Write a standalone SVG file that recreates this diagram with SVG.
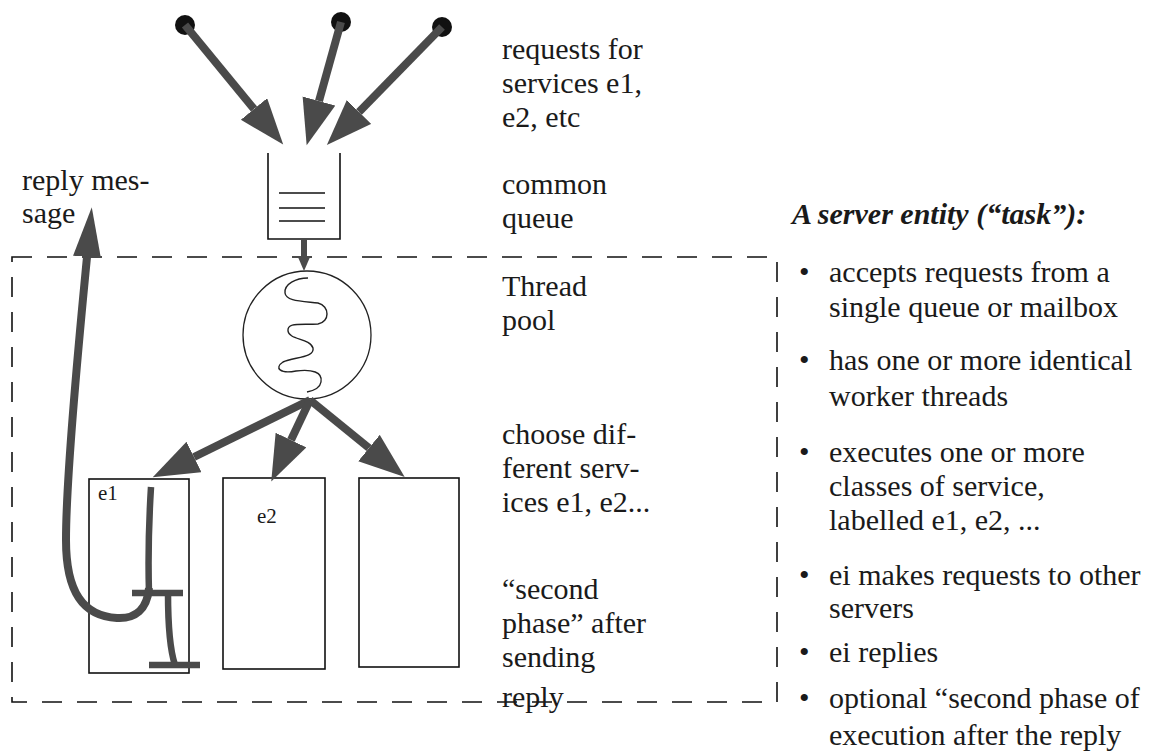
<svg xmlns="http://www.w3.org/2000/svg" width="1149" height="753" viewBox="0 0 1149 753" font-family="'Liberation Serif', 'DejaVu Serif', serif">
  <style>
    .txt { font-size: 30px; fill: #1a1a1a; }
    .small { font-size: 21px; fill: #1a1a1a; }
    .head { font-size: 30px; font-weight: bold; font-style: italic; fill: #1a1a1a; }
    .box { fill: none; stroke: #111; stroke-width: 1.6; }
    .thick { fill: none; stroke: #4a4a4a; stroke-width: 8; stroke-linecap: butt; }
    .mid { fill: none; stroke: #4a4a4a; stroke-width: 6.5; stroke-linecap: butt; }
    .dash { fill: none; stroke: #111; stroke-width: 1.6; stroke-dasharray: 20 15; }
    .dot { fill: #111; }
  </style>
  <defs>
    <marker id="head" markerUnits="userSpaceOnUse" markerWidth="48" markerHeight="36" refX="0" refY="17" orient="auto">
      <path d="M0,0 L46,17 L0,34 z" fill="#4a4a4a"/>
    </marker>
    <marker id="headSlim" markerUnits="userSpaceOnUse" markerWidth="52" markerHeight="30" refX="0" refY="14" orient="auto">
      <path d="M0,0 L50,14 L0,28 z" fill="#4a4a4a"/>
    </marker>
    <marker id="headSmall" markerUnits="userSpaceOnUse" markerWidth="16" markerHeight="14" refX="0" refY="6.5" orient="auto">
      <path d="M0,0 L15,6.5 L0,13 z" fill="#4a4a4a"/>
    </marker>
  </defs>

  <!-- task boundary -->
  <g id="task-boundary">
    <rect class="dash" x="12" y="257" width="765" height="445"/>
  </g>

  <!-- request sources -->
  <g id="sources">
    <circle class="dot" cx="185" cy="25" r="10"/>
    <circle class="dot" cx="341" cy="22" r="10"/>
    <circle class="dot" cx="442" cy="27" r="10"/>
  </g>

  <!-- common queue -->
  <g id="queue">
    <path class="box" d="M268,153 L268,239 L340,239 L340,153"/>
    <line class="box" x1="279" y1="193" x2="325" y2="193"/>
    <line class="box" x1="279" y1="208" x2="325" y2="208"/>
    <line class="box" x1="279" y1="221" x2="325" y2="221"/>
  </g>

  <!-- thread pool -->
  <g id="thread-pool">
    <circle cx="307" cy="335" r="64" fill="none" stroke="#222" stroke-width="1.3"/>
    <path fill="none" stroke="#222" stroke-width="1.4" d="M308,278 C296,278 284,284 285,293 C286,301 300,301 318,303 C330,306 330,322 318,324 C300,325 287,322 288,331 C289,340 310,338 313,348 C315,358 293,357 283,362 C274,368 280,374 296,371 C312,369 323,372 321,382 C320,388 312,391 307,392"/>
  </g>

  <!-- service classes -->
  <g id="service-e1">
    <rect class="box" x="89" y="479" width="100" height="194"/>
    <text class="small" x="98" y="500">e1</text>
    <path class="mid" d="M151,487 C149,520 148,560 149,593"/>
    <line class="mid" x1="132" y1="593" x2="183" y2="593"/>
    <path class="mid" d="M168,593 C168,625 170,650 175,665"/>
    <line class="mid" x1="149" y1="665" x2="200" y2="665"/>
  </g>
  <g id="service-e2">
    <rect class="box" x="223" y="478" width="102" height="191"/>
    <text class="small" x="257" y="523">e2</text>
  </g>
  <g id="service-e3">
    <rect class="box" x="359" y="478" width="100" height="189"/>
  </g>

  <!-- connectors -->
  <g id="connectors">
    <line class="thick" x1="185" y1="25" x2="254" y2="109" marker-end="url(#head)"/>
    <line class="thick" x1="341" y1="22" x2="319" y2="101" marker-end="url(#head)"/>
    <line class="thick" x1="442" y1="27" x2="359" y2="112" marker-end="url(#head)"/>
    <line x1="304" y1="239" x2="304" y2="256" stroke="#4a4a4a" stroke-width="6" marker-end="url(#headSmall)"/>
    <line class="thick" x1="310" y1="400" x2="194" y2="457" marker-end="url(#head)"/>
    <line class="thick" x1="310" y1="400" x2="291" y2="440" marker-end="url(#head)"/>
    <line class="thick" x1="310" y1="400" x2="369" y2="448" marker-end="url(#head)"/>
    <path class="thick" d="M149,588 C147,610 135,619 117,618 C83,616 66,592 66,540 C66,470 80,330 87,257" marker-end="url(#headSlim)"/>
  </g>

  <!-- annotations -->
  <g id="labels">
    <text class="txt" x="22" y="190">reply mes-</text>
    <text class="txt" x="22" y="223">sage</text>

    <text class="txt" x="502" y="59">requests for</text>
    <text class="txt" x="502" y="93">services e1,</text>
    <text class="txt" x="502" y="127">e2, etc</text>
    <text class="txt" x="502" y="194">common</text>
    <text class="txt" x="502" y="228">queue</text>
    <text class="txt" x="502" y="296">Thread</text>
    <text class="txt" x="502" y="330">pool</text>
    <text class="txt" x="502" y="444">choose dif-</text>
    <text class="txt" x="502" y="478">ferent serv-</text>
    <text class="txt" x="502" y="512">ices e1, e2...</text>
    <text class="txt" x="502" y="599">“second</text>
    <text class="txt" x="502" y="633">phase” after</text>
    <text class="txt" x="502" y="667">sending</text>
    <text class="txt" x="502" y="707">reply</text>
  </g>

  <g id="description">
    <text class="head" x="792" y="224">A server entity (“task”):</text>
    <text class="txt" x="799" y="282">•</text>
    <text class="txt" x="829" y="282">accepts requests from a</text>
    <text class="txt" x="829" y="317">single queue or mailbox</text>
    <text class="txt" x="799" y="370">•</text>
    <text class="txt" x="829" y="370">has one or more identical</text>
    <text class="txt" x="829" y="406">worker threads</text>
    <text class="txt" x="799" y="462">•</text>
    <text class="txt" x="829" y="462">executes one or more</text>
    <text class="txt" x="829" y="496">classes of service,</text>
    <text class="txt" x="829" y="530">labelled e1, e2, ...</text>
    <text class="txt" x="799" y="585">•</text>
    <text class="txt" x="829" y="585">ei makes requests to other</text>
    <text class="txt" x="829" y="618">servers</text>
    <text class="txt" x="799" y="662">•</text>
    <text class="txt" x="829" y="662">ei replies</text>
    <text class="txt" x="799" y="708">•</text>
    <text class="txt" x="829" y="708">optional “second phase of</text>
    <text class="txt" x="829" y="745">execution after the reply</text>
  </g>
</svg>
